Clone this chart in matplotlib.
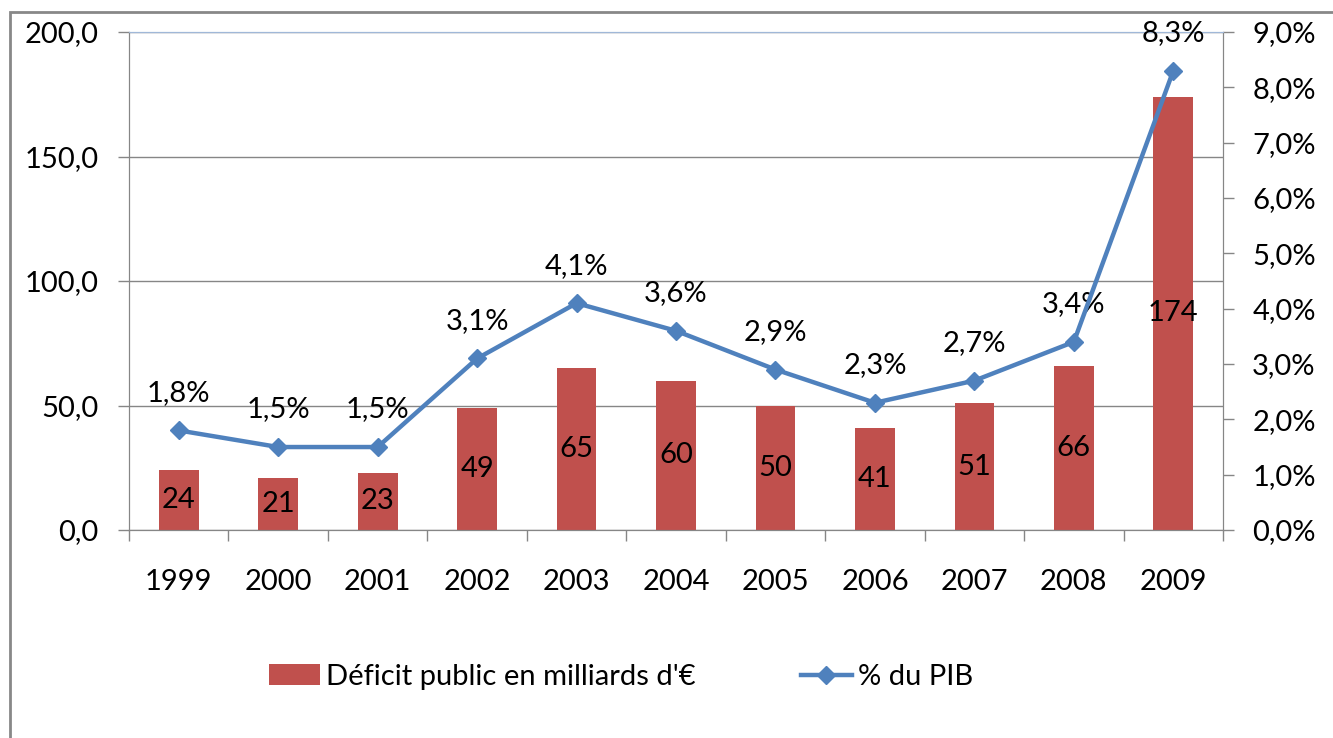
import numpy as np
import matplotlib.pyplot as plt
from matplotlib.patches import Rectangle
from matplotlib.ticker import FuncFormatter, MultipleLocator

plt.rcParams['font.family'] = ['Lato', 'DejaVu Sans']

# données
years = ['1999', '2000', '2001', '2002', '2003', '2004', '2005', '2006', '2007', '2008', '2009']
deficit = [24, 21, 23, 49, 65, 60, 50, 41, 51, 66, 174]
pct_pib = [1.8, 1.5, 1.5, 3.1, 4.1, 3.6, 2.9, 2.3, 2.7, 3.4, 8.3]

bar_color = '#C0504D'
line_color = '#4F81BD'
axis_gray = '#868686'
fs = 21

fig = plt.figure(figsize=(13.33, 7.38), dpi=100)
ax = fig.add_axes([0.0968, 0.2818, 0.8207, 0.6748])
ax2 = ax.twinx()

x = np.arange(len(years))

# barres
bars = ax.bar(x, deficit, width=0.4, color=bar_color, zorder=2,
              label="Déficit public en milliards d'€")
for xi, v in zip(x, deficit):
    ax.text(xi, v / 2, str(v), ha='center', va='center', fontsize=fs, zorder=3)

ax.set_xlim(-0.5, len(years) - 0.5)
ax.set_ylim(0, 200)
ax.yaxis.set_major_locator(MultipleLocator(50))
ax.yaxis.set_major_formatter(FuncFormatter(lambda v, p: f'{v:.1f}'.replace('.', ',')))
ax.grid(axis='y', color=axis_gray, linewidth=1, zorder=0)
ax.set_axisbelow(True)

ax.set_xticks(x)
ax.set_xticklabels(years)
ax.set_xticks(np.arange(-0.5, len(years)), minor=True)
ax.tick_params(axis='x', which='major', length=0, pad=28, labelsize=fs)
ax.tick_params(axis='x', which='minor', length=8, width=1, color=axis_gray, direction='out')
ax.tick_params(axis='y', length=8, width=1, color=axis_gray, pad=14, labelsize=fs)

# ligne %
ax2.plot(x, pct_pib, color=line_color, linewidth=3.2, marker='D', markersize=9,
         zorder=4, label='% du PIB')
for xi, v in zip(x, pct_pib):
    ax2.annotate(f'{v:.1f}%'.replace('.', ','), (xi, v), xytext=(0, 27),
                 textcoords='offset points', ha='center', va='center', fontsize=fs)
ax2.set_ylim(0, 9)
ax2.yaxis.set_major_locator(MultipleLocator(1))
ax2.yaxis.set_major_formatter(FuncFormatter(lambda v, p: f'{v:.1f}%'.replace('.', ',')))
ax2.tick_params(axis='y', length=8, width=1, color=axis_gray, pad=13, labelsize=fs)

for a in (ax, ax2):
    for side in ('left', 'right', 'bottom'):
        a.spines[side].set_color(axis_gray)
    a.spines['top'].set_color('#A0B8D8')

# légende
handles = [bars, ax2.get_lines()[0]]
fig.legend(handles, [h.get_label() for h in handles], loc='center',
           bbox_to_anchor=(0.466, 0.083), ncol=2, frameon=False, fontsize=fs,
           columnspacing=3.6, handlelength=1.75, handletextpad=0.2)

# cadre du graphique
fig.patches.append(Rectangle((0.0075, -0.2), 1.2, 1.1837, transform=fig.transFigure,
                             fill=False, edgecolor='#888888', linewidth=2))

fig.savefig('out.png', dpi=100)
